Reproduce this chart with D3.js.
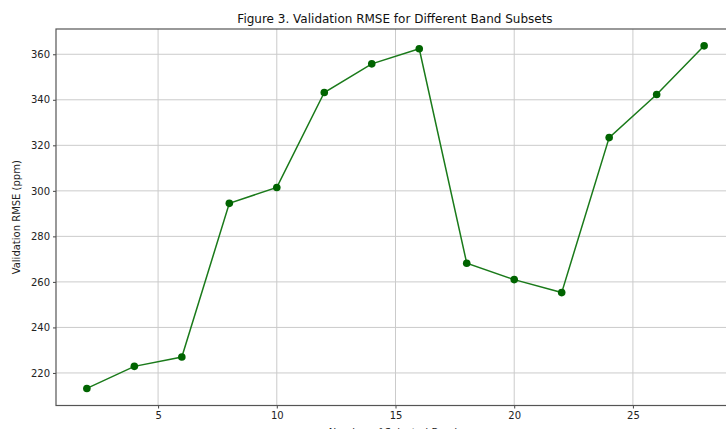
<!DOCTYPE html>
<html>
<head>
<meta charset="utf-8">
<script src="https://cdn.jsdelivr.net/npm/d3@7"></script>
<style>
  body { margin: 0; background: #fff; }
  svg { display: block; font-family: 'DejaVu Sans', sans-serif; }
</style>
</head>
<body>
<div id="chart"></div>
<script>
// Number of selected bands vs validation RMSE
var bands = [2, 4, 6, 8, 10, 12, 14, 16, 18, 20, 22, 24, 26, 28];
var rmse = [213.2, 222.9, 227.0, 294.5, 301.5, 343.2, 355.8, 362.4, 268.2, 261.0, 255.3, 323.4, 342.3, 363.7];
var xTicks = [5, 10, 15, 20, 25];
var yTicks = [220, 240, 260, 280, 300, 320, 340, 360];

var width = 726;
var height = 429;
var plot = {left: 56, right: 735, top: 29, bottom: 405.5};

var svg = d3.select('#chart').append('svg')
            .attr('width', width)
            .attr('height', height);

var x = d3.scaleLinear().domain([0.7, 29.3]).range([plot.left, plot.right]);
var y = d3.scaleLinear().domain([205.7, 371.1]).range([plot.bottom, plot.top]);

// grid
var grid = svg.append('g').attr('class', 'grid');
grid.selectAll('line.gx').data(xTicks).enter()
    .append('line')
    .attr('x1', function(d) { return x(d); })
    .attr('x2', function(d) { return x(d); })
    .attr('y1', plot.top)
    .attr('y2', plot.bottom)
    .attr('stroke', '#cbcbcb')
    .attr('stroke-width', 1);
grid.selectAll('line.gy').data(yTicks).enter()
    .append('line')
    .attr('x1', plot.left)
    .attr('x2', plot.right)
    .attr('y1', function(d) { return y(d); })
    .attr('y2', function(d) { return y(d); })
    .attr('stroke', '#cbcbcb')
    .attr('stroke-width', 1);

// axes
var xAxis = d3.axisBottom(x).tickValues(xTicks).tickSizeOuter(0).tickSize(3).tickPadding(3);
var yAxis = d3.axisLeft(y).tickValues(yTicks).tickSizeOuter(0).tickSize(3).tickPadding(3);

svg.append('g')
   .attr('transform', 'translate(0,' + plot.bottom + ')')
   .call(xAxis)
   .call(function(g) {
     g.select('.domain').remove();
     g.selectAll('text').attr('font-size', '10px').attr('fill', '#222').attr('font-family', 'DejaVu Sans');
     g.selectAll('line').attr('stroke', '#444');
   });

svg.append('g')
   .attr('transform', 'translate(' + plot.left + ',0)')
   .call(yAxis)
   .call(function(g) {
     g.select('.domain').remove();
     g.selectAll('text').attr('font-size', '10px').attr('fill', '#222').attr('font-family', 'DejaVu Sans');
     g.selectAll('line').attr('stroke', '#444');
   });

// frame
svg.append('rect')
   .attr('x', plot.left)
   .attr('y', plot.top)
   .attr('width', plot.right - plot.left)
   .attr('height', plot.bottom - plot.top)
   .attr('fill', 'none')
   .attr('stroke', '#555')
   .attr('stroke-width', 1.2);

// line + markers
var pts = bands.map(function(b, i) { return [b, rmse[i]]; });
var lineFunc = d3.line()
                 .x(function(d) { return x(d[0]); })
                 .y(function(d) { return y(d[1]); });

svg.append('path')
   .datum(pts)
   .attr('d', lineFunc)
   .attr('fill', 'none')
   .attr('stroke', '#1a7a1a')
   .attr('stroke-width', 1.5);

svg.selectAll('circle.pt').data(pts).enter()
   .append('circle')
   .attr('class', 'pt')
   .attr('cx', function(d) { return x(d[0]); })
   .attr('cy', function(d) { return y(d[1]); })
   .attr('r', 3.8)
   .attr('fill', '#006400');

// labels
svg.append('text')
   .attr('x', 395)
   .attr('y', 23)
   .attr('text-anchor', 'middle')
   .attr('font-size', '12px')
   .attr('fill', '#111')
   .text('Figure 3. Validation RMSE for Different Band Subsets');

svg.append('text')
   .attr('transform', 'translate(20,' + ((plot.top + plot.bottom) / 2) + ') rotate(-90)')
   .attr('text-anchor', 'middle')
   .attr('font-size', '10px')
   .attr('fill', '#222')
   .text('Validation RMSE (ppm)');

svg.append('text')
   .attr('x', (plot.left + plot.right) / 2)
   .attr('y', 436)
   .attr('text-anchor', 'middle')
   .attr('font-size', '10px')
   .attr('fill', '#222')
   .text('Number of Selected Bands');
</script>
</body>
</html>
